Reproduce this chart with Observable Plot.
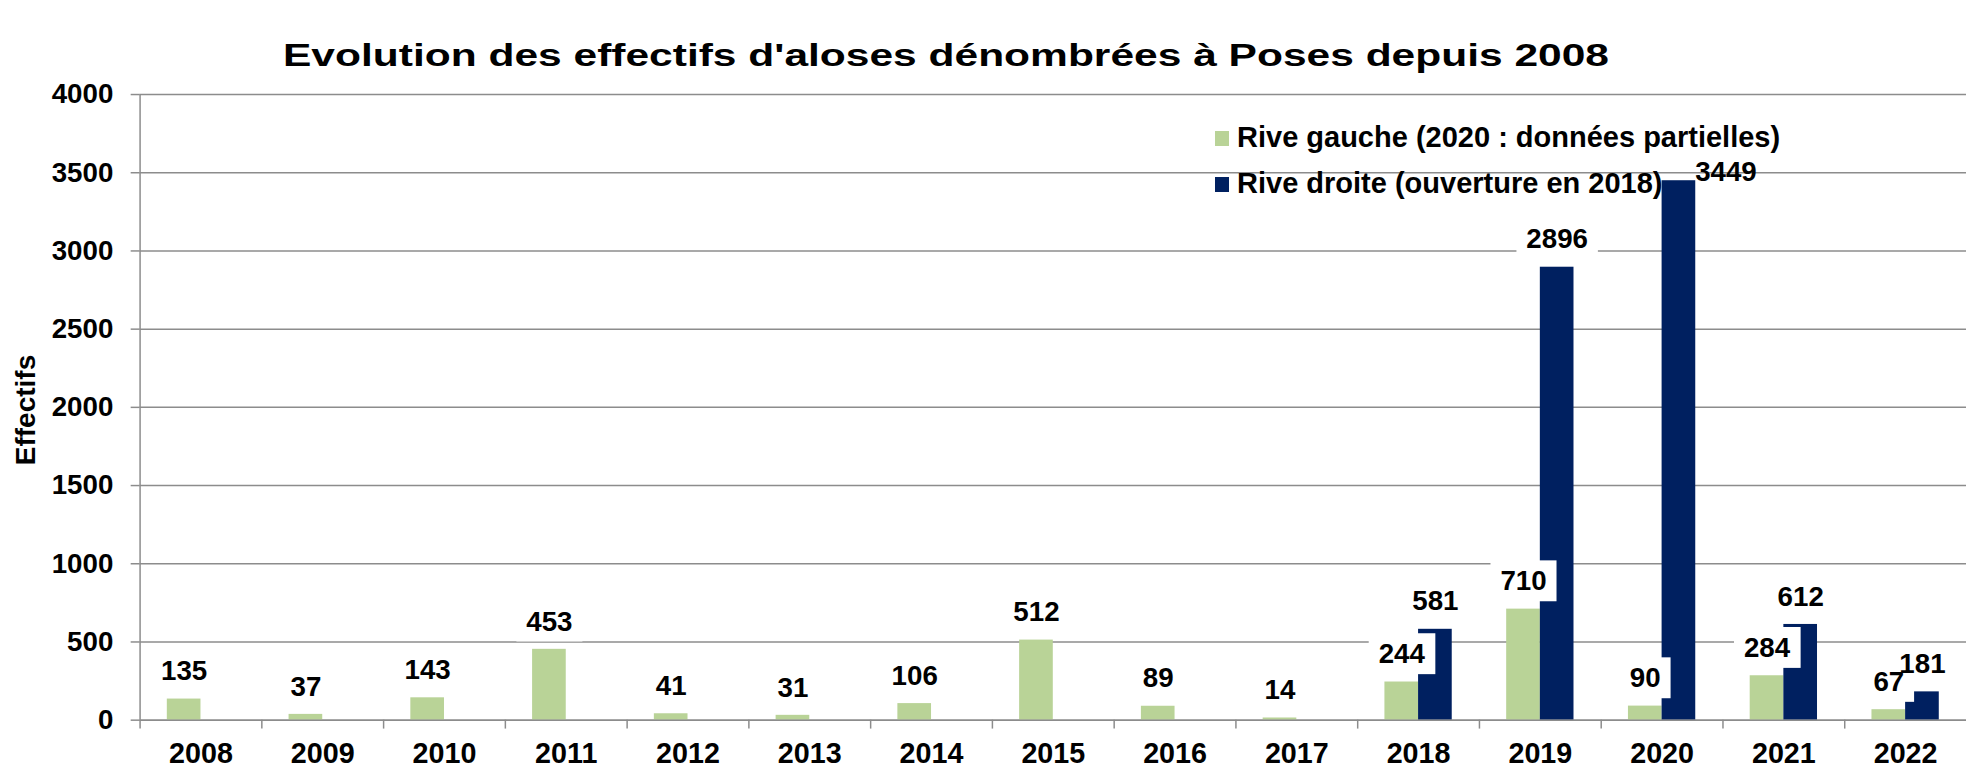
<!DOCTYPE html>
<html>
<head>
<meta charset="utf-8">
<script src="https://cdn.jsdelivr.net/npm/d3@7"></script>
<script src="https://cdn.jsdelivr.net/npm/@observablehq/plot@0.6"></script>
<style>
  html, body { margin: 0; padding: 0; background: #fff; overflow: hidden; width: 1966px; height: 777px; }
  #wrap { position: relative; width: 1966px; height: 777px; overflow: hidden; font-family: "Liberation Sans", Arial, sans-serif; font-weight: bold; color: #000; }
  #chart { position: absolute; left: 0; top: 0; }
  #title { position: absolute; left: 283px; top: 39px; font-size: 32px; line-height: 32px; white-space: nowrap; transform-origin: 0 0; }
  #ylabel { position: absolute; left: 26px; top: 410px; font-size: 28px; line-height: 28px; white-space: nowrap; transform: translate(-50%, -50%) rotate(-90deg); }
  .leg { position: absolute; left: 1215px; font-size: 29px; line-height: 29px; white-space: nowrap; }
  .leg .sw { position: absolute; left: 0; width: 14px; height: 15px; }
  .leg .tx { position: absolute; left: 22px; top: 0; }
</style>
</head>
<body>
<div id="wrap">
  <div id="chart"></div>
  <div id="title"></div>
  <div id="ylabel"></div>
  <div id="legend"></div>
</div>
<script>
// ---- data ----
const titleText = "Evolution des effectifs d'aloses dénombrées à Poses depuis 2008";
const yLabelText = "Effectifs";
const years = [2008, 2009, 2010, 2011, 2012, 2013, 2014, 2015, 2016, 2017, 2018, 2019, 2020, 2021, 2022];
const riveGauche = [135, 37, 143, 453, 41, 31, 106, 512, 89, 14, 244, 710, 90, 284, 67];
const riveDroite = [null, null, null, null, null, null, null, null, null, null, 581, 2896, 3449, 612, 181];
const seriesNames = ["Rive gauche (2020 : données partielles)", "Rive droite (ouverture en 2018)"];
const seriesColors = ["#B9D397", "#002060"];
const yTicks = [0, 500, 1000, 1500, 2000, 2500, 3000, 3500, 4000];

// ---- layout ----
const W = 1986, H = 777, mL = 141, mR = 0, mT = 95, mB = 50;
const step = (W - mL - mR) / years.length;
const barW = 34;
const gridColor = "#8c8c8c";

const gauche = years.map((y, i) => ({year: String(y), value: riveGauche[i]}));
const droite = years.map((y, i) => ({year: String(y), value: riveDroite[i]})).filter(d => d.value != null);
const isMoved = d => d.year === "2020";
const droiteMain = droite.filter(d => !isMoved(d));
const droiteMoved = droite.filter(isMoved);

const titleEl = document.getElementById("title");
titleEl.textContent = titleText;
document.getElementById("ylabel").textContent = yLabelText;
const legend = document.getElementById("legend");
const legTops = [123, 169];
seriesNames.forEach((name, i) => {
  const row = document.createElement("div");
  row.className = "leg";
  row.style.top = legTops[i] + "px";
  row.innerHTML = `<div class="sw" style="top:8px;background:${seriesColors[i]}"></div><div class="tx"></div>`;
  row.querySelector(".tx").textContent = name;
  legend.appendChild(row);
});
// the original title is horizontally stretched: spans x 283 → 1609
const tw = titleEl.getBoundingClientRect().width;
titleEl.style.transform = `scaleX(${(1609 - 283) / tw})`;

const txt = {fontSize: 28, fontWeight: "bold", fill: "#000", lineAnchor: "bottom"};

const chart = Plot.plot({
  width: W, height: H,
  marginLeft: mL, marginRight: mR, marginTop: mT, marginBottom: mB,
  style: {fontFamily: "'Liberation Sans', Arial, sans-serif", fontWeight: "bold", color: "#000", background: "#fff", overflow: "visible"},
  x: {type: "band", domain: years.map(String), padding: 0},
  y: {domain: [0, 4000]},
  marks: [
    Plot.gridY(yTicks, {stroke: gridColor, strokeOpacity: 1, strokeWidth: 1.5}),
    Plot.axisY(yTicks, {tickSize: 9, tickPadding: 18, fontSize: 28, fontWeight: "bold", stroke: gridColor, strokeWidth: 1.5, strokeOpacity: 1, tickFormat: d => String(d), label: null}),
    Plot.axisX({tickSize: 0, tickPadding: 23, fontSize: 29, fontWeight: "bold", label: null}),
    Plot.barY(gauche, {x: "year", y: "value", fill: seriesColors[0], insetLeft: step / 2 - barW, insetRight: step / 2}),
    Plot.barY(droite, {x: "year", y: "value", fill: seriesColors[1], insetLeft: step / 2, insetRight: step / 2 - barW}),
    Plot.ruleY([0], {stroke: gridColor, strokeWidth: 1.5}),
    Plot.ruleX([String(years[0])], {dx: -step / 2, y1: 0, y2: 4000, stroke: gridColor, strokeWidth: 1.5}),
    Plot.ruleX(years.map(String), {dx: -step / 2, y1: 0, y2: 0, insetBottom: -9, stroke: gridColor, strokeWidth: 1.5}),
    Plot.text(gauche, {...txt, x: "year", y: "value", text: d => String(d.value), dx: -barW / 2, dy: -19}),
    Plot.text(droiteMain, {...txt, x: "year", y: "value", text: d => String(d.value), dx: barW / 2, dy: -19}),
    Plot.text(droiteMoved, {...txt, x: "year", y: "value", text: d => String(d.value), dx: step / 2 + 3, dy: 0})
  ]
});
document.getElementById("chart").appendChild(chart);

// white boxes behind the value labels (first two text marks), drawn under all label texts
const groups = Array.from(chart.querySelectorAll('g[aria-label="text"]')).slice(0, 2);
if (groups.length) {
  const NS = "http://www.w3.org/2000/svg";
  const boxes = document.createElementNS(NS, "g");
  groups[0].parentNode.insertBefore(boxes, groups[0]);
  groups.forEach(g => {
    const gg = document.createElementNS(NS, "g");
    if (g.getAttribute("transform")) gg.setAttribute("transform", g.getAttribute("transform"));
    boxes.appendChild(gg);
    g.querySelectorAll("text").forEach(t => {
      const b = t.getBBox();
      const r = document.createElementNS(NS, "rect");
      if (t.getAttribute("transform")) r.setAttribute("transform", t.getAttribute("transform"));
      r.setAttribute("x", b.x - 10);
      r.setAttribute("y", b.y - 5);
      r.setAttribute("width", b.width + 20);
      r.setAttribute("height", b.height + 10);
      r.setAttribute("fill", "#fff");
      gg.appendChild(r);
    });
  });
}
</script>
</body>
</html>
